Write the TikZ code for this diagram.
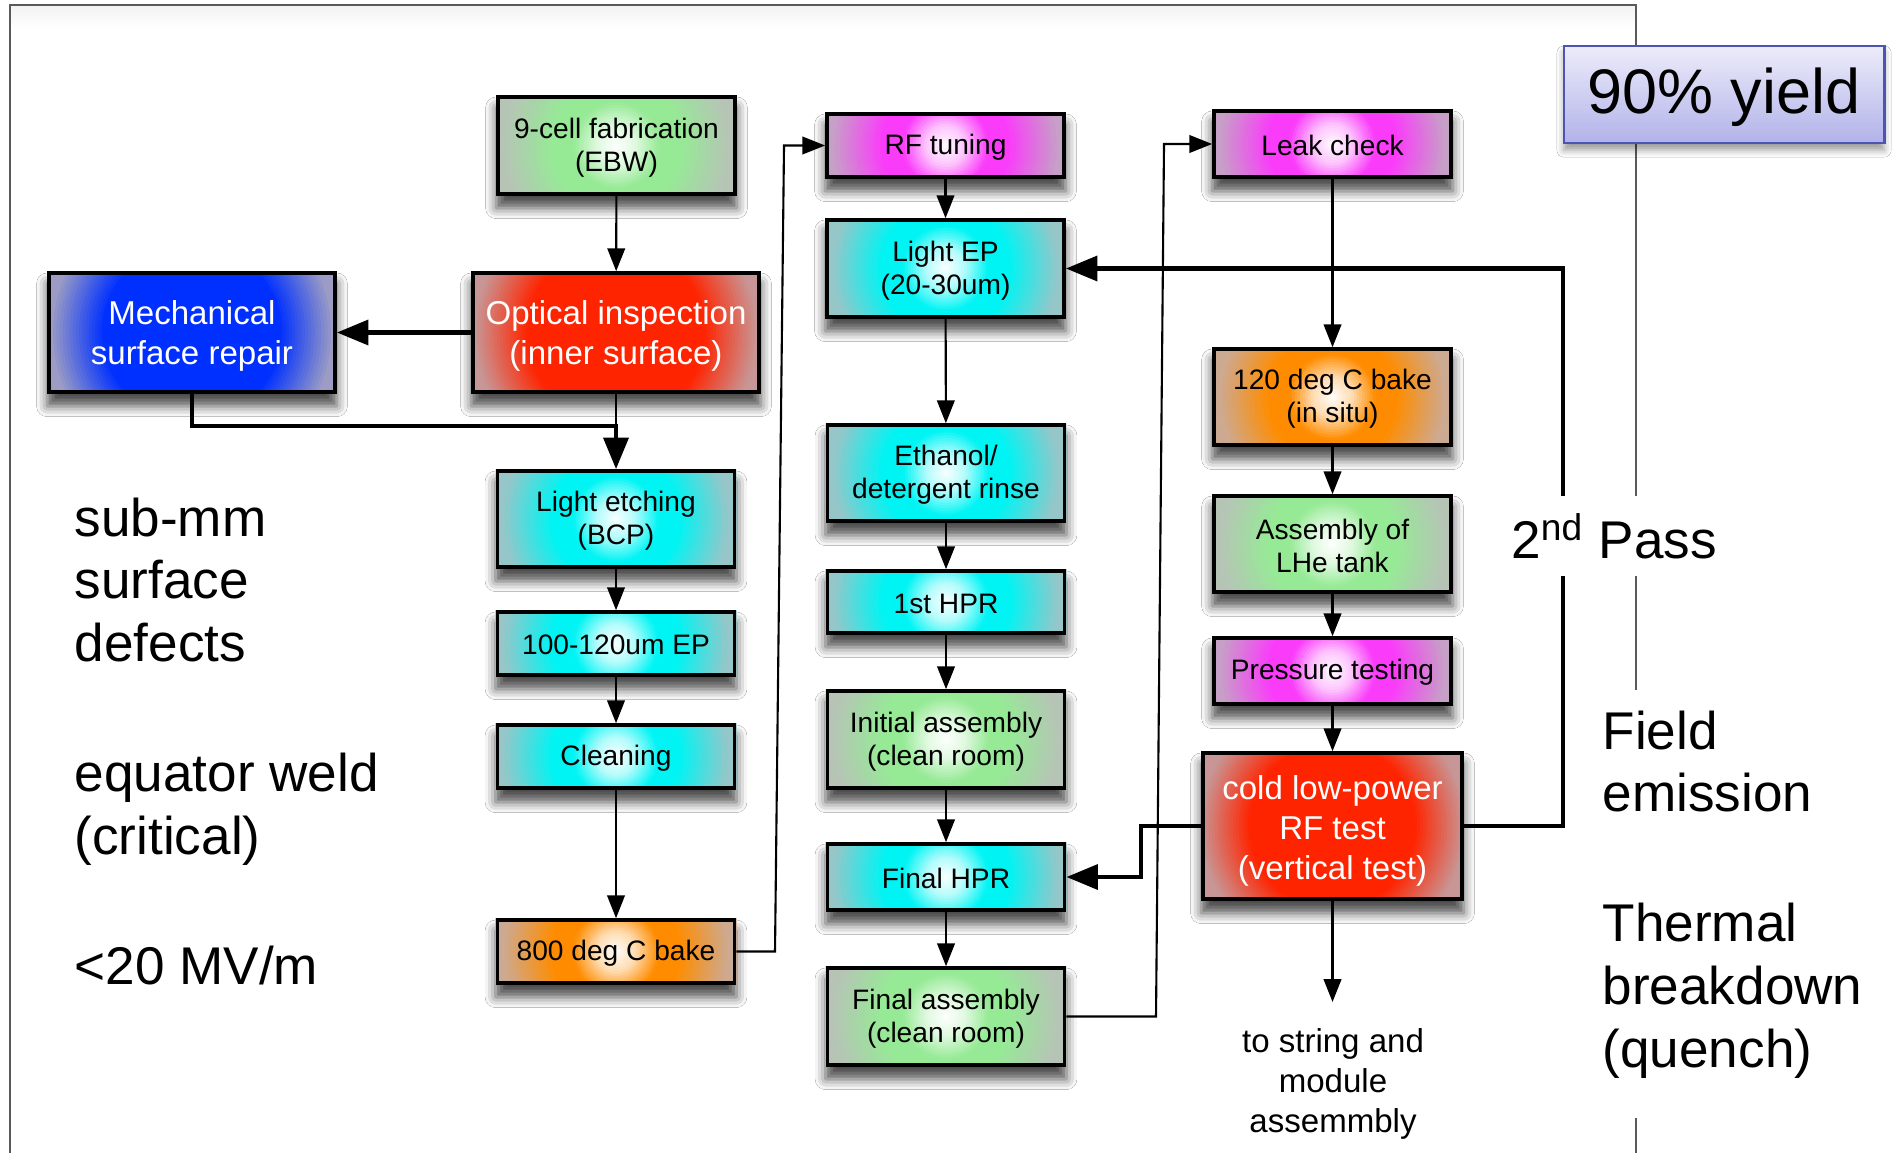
\documentclass[tikz,border=0pt]{standalone}
\usepackage{fontspec}
\setmainfont{Liberation Sans}
\usetikzlibrary{arrows.meta,shadows.blur}

\definecolor{grC}{RGB}{150,234,150}
\definecolor{grE}{RGB}{182,196,182}
\definecolor{cyC}{RGB}{0,244,244}
\definecolor{cyE}{RGB}{150,198,200}
\definecolor{mgC}{RGB}{250,60,250}
\definecolor{mgE}{RGB}{198,160,198}
\definecolor{orC}{RGB}{255,140,0}
\definecolor{orE}{RGB}{204,170,146}
\definecolor{rdC}{RGB}{255,36,0}
\definecolor{rdE}{RGB}{200,150,150}
\definecolor{blC}{RGB}{0,48,255}
\definecolor{blE}{RGB}{156,156,196}
\definecolor{yTop}{RGB}{236,236,250}
\definecolor{yBot}{RGB}{178,178,234}
\definecolor{yBrd}{RGB}{76,84,180}
\definecolor{frameC}{RGB}{90,90,90}

\tikzset{
  box/.style={draw=black, line width=1pt, rectangle, inner sep=0pt, align=center,
    font=\fontsize{8}{9.4}\selectfont, minimum width=2.37cm,
    execute at begin node={\rule{0pt}{6.5pt}}},
  mlbox/.style={box, execute at begin node={}},
  bigbox/.style={box, font=\fontsize{9.4}{11.4}\selectfont, text=white, minimum width=2.86cm,
    execute at begin node={}},
  arr/.style={line width=0.6pt, draw opacity=1, fill opacity=1, -{Triangle[length=6.5pt,width=5pt]}},
  barr/.style={line width=1.4pt, draw opacity=1, fill opacity=1, -{Triangle[length=9pt,width=7pt]}},
  bigtxt/.style={inner sep=0pt, align=left, font=\fontsize{15.1}{17.9}\selectfont},
  framec/.style={draw=frameC, line width=0.45pt},
  boxshadow/.style={blur shadow={shadow xshift=0pt, shadow yshift=-3.5pt, shadow blur radius=3pt, shadow opacity=70}}
}

\newcommand\hs[1]{\rule{0pt}{#1}}

% radial gradient made of concentric discs, clipped to a node
% #1 node, #2 centre colour, #3 edge colour, #4 radius (cm), #5 white core (1) or solid core (0)
\newcommand\radfill[5]{%
  \begin{scope}
    \clip (#1.south west) rectangle (#1.north east);
    \fill[#3] (#1.south west) rectangle (#1.north east);
    \foreach \k in {0,...,47}{
      \pgfmathsetmacro\myK{#5>0.5 ? 0.5 : 0.58}
      \pgfmathsetmacro\myL{#5>0.5 ? 0.88 : 0.92}
      \pgfmathsetmacro\myT{1-\k/48}
      \pgfmathsetmacro\myB{\myT>=\myK ? 100*max(0,1-(\myT-\myK)/(\myL-\myK)) : 100}
      \pgfmathsetmacro\myA{#5<0.5 ? 100 : (\myT>=0.34 ? 100 : (\myT>=0.16 ? 30+70*(\myT-0.16)/0.18 : 30*\myT/0.16))}
      \pgfmathsetmacro\myR{#4*\myT}
      \fill[#2!\myA!white!\myB!#3] (#1.center) circle (\myR cm);
    }
  \end{scope}
}

% #1 style, #2 name, #3 position, #4 size keys, #5 centre colour, #6 edge colour, #7 radius, #8 core, #9 text
\newcommand\flowbox[9]{%
  \node[#1, #4, draw=none] (#2B) at #3 {};
  \begin{scope}
    \path[boxshadow] (#2B.south west) rectangle (#2B.north east);
  \end{scope}
  \radfill{#2B}{#5}{#6}{#7}{#8}
  \node[#1, #4] (#2) at (#2B) {#9};
}

\begin{document}
\begin{tikzpicture}[x=0.01cm, y=-0.01cm]
\useasboundingbox (0,0) rectangle (1892,1152);
\fill[white] (0,0) rectangle (1892,1152);
\shade[top color=gray!10, bottom color=white] (10.5,5.5) rectangle (1635.5,28);

% frame
\draw[framec] (10,1160) -- (10,5) -- (1636,5) -- (1636,690);
\draw[framec] (1636,1118) -- (1636,1160);

% column 1
\flowbox{mlbox}{fab}{(616.5,145.5)}{minimum height=0.97cm}{grC}{grE}{1.3}{1}{\hs{6.8pt}9-cell fabrication\\(EBW)}
\flowbox{bigbox}{opt}{(616,332.5)}{minimum height=1.19cm}{rdC}{rdE}{1.55}{0}{\hs{8.9pt}Optical inspection\\(inner surface)}
\flowbox{bigbox}{mech}{(192,332.5)}{minimum height=1.19cm}{blC}{blE}{1.55}{0}{\hs{8.9pt}Mechanical\\surface repair}
\flowbox{mlbox}{etch}{(616,519)}{minimum height=0.96cm}{cyC}{cyE}{1.3}{1}{\hs{6.8pt}Light etching\\(BCP)}
\flowbox{box}{ep}{(616,643.5)}{minimum height=0.63cm}{cyC}{cyE}{1.3}{1}{100-120um EP}
\flowbox{box}{clean}{(616,756.5)}{minimum height=0.63cm}{cyC}{cyE}{1.3}{1}{Cleaning}
\flowbox{box}{bake8}{(616,951.5)}{minimum height=0.63cm}{orC}{orE}{1.3}{1}{800 deg C bake}

% column 2
\flowbox{box}{rft}{(945.5,145.5)}{minimum height=0.63cm}{mgC}{mgE}{1.3}{1}{RF tuning}
\flowbox{mlbox}{lep}{(945.5,268.5)}{minimum height=0.97cm}{cyC}{cyE}{1.3}{1}{\hs{6.8pt}Light EP\\(20-30um)}
\flowbox{mlbox}{eth}{(946,473)}{minimum height=0.96cm}{cyC}{cyE}{1.3}{1}{\hs{6.8pt}Ethanol/\\detergent rinse}
\flowbox{box}{hpr1}{(946,602)}{minimum height=0.62cm}{cyC}{cyE}{1.3}{1}{1st HPR}
\flowbox{mlbox}{init}{(946,739.5)}{minimum height=0.97cm}{grC}{grE}{1.3}{1}{\hs{6.8pt}Initial assembly\\(clean room)}
\flowbox{box}{fhpr}{(946,877)}{minimum height=0.66cm}{cyC}{cyE}{1.3}{1}{Final HPR}
\flowbox{mlbox}{fasm}{(946,1016.5)}{minimum height=0.97cm}{grC}{grE}{1.3}{1}{\hs{6.8pt}Final assembly\\(clean room)}

% column 3
\flowbox{box}{leak}{(1332.5,144)}{minimum height=0.66cm}{mgC}{mgE}{1.3}{1}{Leak check}
\flowbox{mlbox}{bake1}{(1332.5,397)}{minimum height=0.96cm}{orC}{orE}{1.3}{1}{\hs{6.8pt}120 deg C bake\\(in situ)}
\flowbox{mlbox}{lhe}{(1332.5,544)}{minimum height=0.96cm}{grC}{grE}{1.3}{1}{\hs{6.8pt}Assembly of\\LHe tank}
\flowbox{box}{press}{(1332.5,671)}{minimum height=0.66cm}{mgC}{mgE}{1.3}{1}{Pressure testing}
\flowbox{bigbox}{cold}{(1332.5,826)}{minimum width=2.59cm, minimum height=1.46cm}{rdC}{rdE}{1.45}{0}{\hs{9.6pt}cold low-power\\RF test\\(vertical test)}

% connectors column 1
\draw[arr] (fab) -- (opt);
\draw[barr] (opt.west) -- (mech.east);
\coordinate (j1) at (616,426);
\draw[line width=0.6pt] (opt.south) -- (j1);
\draw[barr] (mech.south) |- (j1) -- (etch.north);
\draw[arr] (etch) -- (ep);
\draw[arr] (ep) -- (clean);
\draw[arr] (clean) -- (bake8);
\draw[arr] (bake8.east) -- (775,951.5) -- (784,145.5) -- (rft.west);

% connectors column 2
\draw[arr] (rft) -- (lep);
\draw[arr] (lep) -- (eth);
\draw[arr] (eth) -- (hpr1);
\draw[arr] (hpr1) -- (init);
\draw[arr] (init) -- (fhpr);
\draw[arr] (fhpr) -- (fasm);
\draw[arr] (fasm.east) -- (1156,1016.5) -- (1164,144) -- (leak.west);

% connectors column 3
\draw[arr] (leak) -- (bake1);
\draw[arr] (bake1) -- (lhe);
\draw[arr] (lhe) -- (press);
\draw[arr] (press) -- (cold);
\draw[barr] (cold.east) -- (1563,826) -- (1563,268.5) -- (lep.east);
\draw[barr] (cold.west) -- (1141,826) -- (1141,877) -- (fhpr.east);
\coordinate (out) at (1332.5,1002);
\draw[arr] (cold.south) -- (out);
\node[font=\fontsize{9.4}{11.4}\selectfont, align=center, inner sep=0pt] (str) at (1333,1084) {to string and\\module\\assemmbly};

% labels
\node[fill=white, inner xsep=3pt, inner ysep=0pt, minimum height=0.79cm, font=\fontsize{15.1}{17.9}\selectfont] (pass) at (1614,536) {2\textsuperscript{nd} Pass};
\node[bigtxt, anchor=west] (sub) at (74,580) {sub-mm\\surface\\defects};
\node[bigtxt, anchor=west] (eq) at (74,809) {equator weld\\(critical)};
\node[bigtxt, anchor=west] (mv) at (74,966) {<20 MV/m};
\node[bigtxt, anchor=west] (fe) at (1602,761.5) {Field\\emission};
\node[bigtxt, anchor=west] (tb) at (1602,991) {Thermal\\breakdown\\(quench)};

% yield box
\node[draw=yBrd, line width=0.8pt, top color=yTop, bottom color=yBot, minimum width=3.2cm, minimum height=0.97cm, inner sep=0pt,
  font=\fontsize{17.9}{21}\selectfont,
  blur shadow={shadow xshift=0pt, shadow yshift=-2pt, shadow blur radius=2pt, shadow opacity=40}] (yield) at (1724,94.5) {\rule{0pt}{14.5pt}90\% yield};
\end{tikzpicture}
\end{document}
